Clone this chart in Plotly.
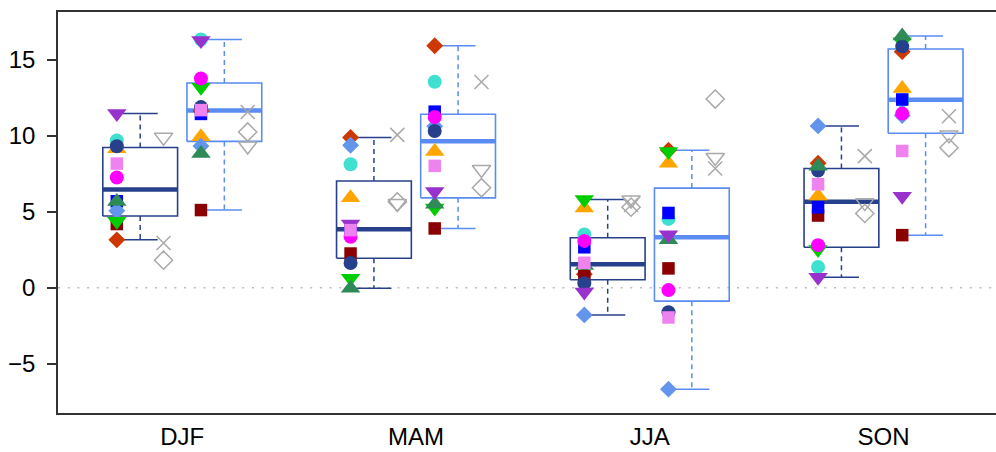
import numpy as np
import plotly.graph_objects as go

seasons = ["DJF", "MAM", "JJA", "SON"]

# Panel order: DJF-a, DJF-b, MAM-a, MAM-b, JJA-a, JJA-b, SON-a, SON-b
# (a = first ensemble, dark boxes; b = second ensemble, light boxes)
turquoise  = [9.70, 16.35, 8.14, 13.57, 3.51, 4.54, 1.38, 12.35]
orange     = [9.15, 9.95, 5.93, 8.97, 5.25, 8.20, 6.05, 13.12]
orangered  = [3.16, 11.65, 9.90, 15.94, 0.90, 9.06, 8.20, 15.55]
darkred    = [4.20, 5.12, 2.26, 3.91, 0.76, 1.28, 4.76, 3.47]
blue       = [5.70, 11.45, 3.92, 11.60, 2.67, 4.93, 5.30, 12.40]
cornflower = [5.08, 9.33, 9.39, 10.64, -1.78, -6.67, 10.66, 11.35]
navy       = [9.32, 11.90, 1.64, 10.33, 0.30, -1.60, 7.72, 15.90]
green      = [4.38, 13.20, 0.63, 5.25, 5.82, 8.98, 2.53, 16.20]
magenta    = [7.26, 13.78, 3.36, 11.25, 3.09, -0.15, 2.81, 11.47]
seagreen   = [5.69, 8.85, -0.03, 5.50, 1.47, 3.17, 8.00, 16.58]
purple     = [11.48, 16.28, 4.20, 6.35, -0.28, 3.50, 0.69, 6.03]
violet     = [8.18, 11.70, 3.80, 8.03, 1.65, -1.95, 6.82, 9.01]

# Reference estimates (grey open symbols)
ref_cross   = [2.95, 11.58, 10.07, 13.55, 5.45, 7.86, 8.67, 11.30]
ref_diamond = [1.82, 10.26, 5.66, 6.59, 5.31, 12.43, 4.90, 9.22]
ref_tridown = [9.92, 9.34, 5.55, 7.79, 5.78, 8.58, 5.61, 10.07]

# (values, colour, symbol, size) in drawing order
models = [
    (turquoise,  "#40E0D0", "circle", 14),
    (orange,     "#FFA500", "triangle-up", 17),
    (orangered,  "#CD3700", "diamond", 13),
    (darkred,    "#8B0000", "square", 12.5),
    (blue,       "#0000FF", "square", 12.5),
    (cornflower, "#6495ED", "diamond", 13),
    (green,      "#00CD00", "triangle-down", 17),
    (navy,       "#27408B", "circle", 14),
    (magenta,    "#FF00FF", "circle", 14),
    (seagreen,   "#2E8B57", "triangle-up", 17),
    (purple,     "#9932CC", "triangle-down", 17),
    (violet,     "#EE82EE", "square", 12.5),
]

box_colors = ["#27408B", "#5A8CF2"]
GREY = "#A9A9A9"

n_panels = len(turquoise)
offset = 0.18      # box centre offset from season tick
half_w = 0.16      # half box width
cap_w = 0.075      # half cap width
pt_dx = 0.10       # symbol offset from box centre

centres = [k // 2 + (-offset if k % 2 == 0 else offset) for k in range(n_panels)]


def fivenum(v):
    x = np.sort(np.asarray(v, dtype=float))
    n = len(x)
    n4 = np.floor((n + 3) / 2) / 2
    d = np.array([1, n4, (n + 1) / 2, n + 1 - n4, n]) - 1
    return 0.5 * (x[np.floor(d).astype(int)] + x[np.ceil(d).astype(int)])


panel_values = [[m[0][k] for m in models] for k in range(n_panels)]
stats = [fivenum(v) for v in panel_values]

fig = go.Figure()

for j, col in enumerate(box_colors):
    rx, ry, mx, my, wx, wy, cx, cy = [], [], [], [], [], [], [], []
    for k in range(j, n_panels, 2):
        lo, q1, med, q3, hi = stats[k]
        xc = centres[k]
        rx += [xc - half_w, xc + half_w, xc + half_w, xc - half_w, xc - half_w, None]
        ry += [q1, q1, q3, q3, q1, None]
        mx += [xc - half_w, xc + half_w, None]
        my += [med, med, None]
        wx += [xc, xc, None, xc, xc, None]
        wy += [q3, hi, None, q1, lo, None]
        cx += [xc - cap_w, xc + cap_w, None, xc - cap_w, xc + cap_w, None]
        cy += [hi, hi, None, lo, lo, None]
    fig.add_trace(go.Scatter(x=wx, y=wy, mode="lines",
                             line=dict(color=col, width=1.5, dash="5px,4px")))
    fig.add_trace(go.Scatter(x=cx, y=cy, mode="lines",
                             line=dict(color=col, width=1.5)))
    fig.add_trace(go.Scatter(x=rx, y=ry, mode="lines",
                             line=dict(color=col, width=1.6)))
    fig.add_trace(go.Scatter(x=mx, y=my, mode="lines",
                             line=dict(color=col, width=4.5)))

xs_model = [c - pt_dx for c in centres]
for vals, col, sym, size in models:
    fig.add_trace(go.Scatter(
        x=xs_model, y=vals, mode="markers",
        marker=dict(color=col, symbol=sym, size=size, line=dict(width=0)),
    ))

xs_ref = [c + pt_dx for c in centres]
for vals, sym, size in [(ref_cross, "x-thin", 14),
                        (ref_diamond, "diamond-open", 14),
                        (ref_tridown, "triangle-down-open", 16)]:
    fig.add_trace(go.Scatter(
        x=xs_ref, y=vals, mode="markers",
        marker=dict(symbol=sym, size=size, color=GREY,
                    line=dict(color=GREY, width=1.5)),
    ))

fig.add_shape(type="line", xref="paper", x0=0, x1=1, yref="y", y0=0, y1=0,
              line=dict(color="#BBBBBB", width=1.5, dash="2px,7.7px"),
              layer="below")

font = dict(family="Liberation Sans, Arial, Helvetica, sans-serif", size=24, color="#000000")

fig.update_layout(
    width=996, height=452,
    margin=dict(l=58, r=0, t=12, b=39),
    paper_bgcolor="white", plot_bgcolor="white",
    showlegend=False,
    font=font,
    xaxis=dict(
        range=[-0.5316, 3.4812],
        tickvals=list(range(len(seasons))), ticktext=seasons,
        ticks="", showgrid=False, zeroline=False, automargin=False,
        showline=True, mirror=True, linecolor="#333333", linewidth=1.5,
        tickfont=font, ticklabelstandoff=1,
    ),
    yaxis=dict(
        range=[-8.24, 18.16],
        tickvals=[-5, 0, 5, 10, 15],
        ticks="outside", ticklen=9, tickwidth=1.5, tickcolor="#333333",
        showgrid=False, zeroline=False, automargin=False,
        showline=True, mirror=False, linecolor="#333333", linewidth=1.5,
        tickfont=font, ticklabelstandoff=7,
    ),
)

fig.write_html("out.html")
